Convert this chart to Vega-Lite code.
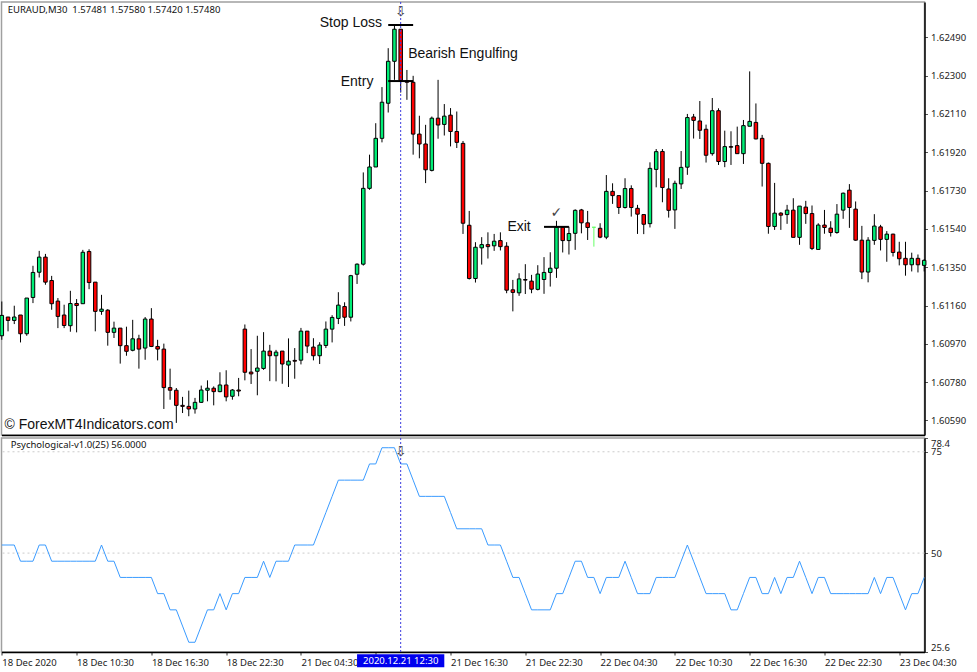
{
  "$schema": "https://vega.github.io/schema/vega-lite/v6.json",
  "background": "white",
  "padding": {"left": -1.5, "top": 0, "right": 0, "bottom": 0},
  "spacing": -1,
  "config": {
    "view": {"stroke": "#a0a0a0", "strokeWidth": 1.5},
    "axis": {"labelFont": "Noto Sans", "labelFontSize": 9.5, "labelColor": "#222222", "grid": false, "title": null}
  },
  "datasets": {
    "bars": [
      {"t":"18 Dec 2020","o":1.61010,"h":1.61180,"l":1.60990,"c":1.61111,"psy":52},
      {"t":"18 Dec 05:00","o":1.61103,"h":1.61103,"l":1.61032,"c":1.61086,"psy":52},
      {"t":"18 Dec 05:30","o":1.61086,"h":1.61159,"l":1.61068,"c":1.61103,"psy":52},
      {"t":"18 Dec 06:00","o":1.61113,"h":1.61113,"l":1.60977,"c":1.61020,"psy":48},
      {"t":"18 Dec 06:30","o":1.61020,"h":1.61197,"l":1.61010,"c":1.61197,"psy":48},
      {"t":"18 Dec 07:00","o":1.61200,"h":1.61357,"l":1.61172,"c":1.61324,"psy":48},
      {"t":"18 Dec 07:30","o":1.61325,"h":1.61431,"l":1.61299,"c":1.61400,"psy":52},
      {"t":"18 Dec 08:00","o":1.61400,"h":1.61416,"l":1.61263,"c":1.61276,"psy":52},
      {"t":"18 Dec 08:30","o":1.61284,"h":1.61307,"l":1.61139,"c":1.61169,"psy":48},
      {"t":"18 Dec 09:00","o":1.61182,"h":1.61197,"l":1.61048,"c":1.61106,"psy":48},
      {"t":"18 Dec 09:30","o":1.61113,"h":1.61164,"l":1.61048,"c":1.61061,"psy":48},
      {"t":"18 Dec 10:00","o":1.61060,"h":1.61233,"l":1.61030,"c":1.61170,"psy":48},
      {"t":"18 Dec 10:30","o":1.61170,"h":1.61192,"l":1.61027,"c":1.61160,"psy":48},
      {"t":"18 Dec 11:00","o":1.61169,"h":1.61436,"l":1.61169,"c":1.61424,"psy":48},
      {"t":"18 Dec 11:30","o":1.61428,"h":1.61439,"l":1.61241,"c":1.61274,"psy":48},
      {"t":"18 Dec 12:00","o":1.61276,"h":1.61276,"l":1.61032,"c":1.61131,"psy":48},
      {"t":"18 Dec 12:30","o":1.61131,"h":1.61213,"l":1.61114,"c":1.61142,"psy":52},
      {"t":"18 Dec 13:00","o":1.61137,"h":1.61142,"l":1.60961,"c":1.61027,"psy":48},
      {"t":"18 Dec 13:30","o":1.61027,"h":1.61080,"l":1.60999,"c":1.61048,"psy":48},
      {"t":"18 Dec 14:00","o":1.61048,"h":1.61048,"l":1.60872,"c":1.60961,"psy":44},
      {"t":"18 Dec 14:30","o":1.60961,"h":1.61055,"l":1.60911,"c":1.60933,"psy":44},
      {"t":"18 Dec 15:00","o":1.60938,"h":1.61089,"l":1.60933,"c":1.60995,"psy":44},
      {"t":"18 Dec 15:30","o":1.60995,"h":1.61015,"l":1.60847,"c":1.60944,"psy":44},
      {"t":"18 Dec 16:00","o":1.60949,"h":1.61103,"l":1.60891,"c":1.61093,"psy":44},
      {"t":"18 Dec 16:30","o":1.61093,"h":1.61147,"l":1.60954,"c":1.60957,"psy":44},
      {"t":"18 Dec 17:00","o":1.60957,"h":1.60990,"l":1.60888,"c":1.60944,"psy":40},
      {"t":"18 Dec 17:30","o":1.60944,"h":1.60971,"l":1.60647,"c":1.60753,"psy":40},
      {"t":"18 Dec 18:00","o":1.60753,"h":1.60847,"l":1.60693,"c":1.60740,"psy":36},
      {"t":"18 Dec 18:30","o":1.60740,"h":1.60751,"l":1.60578,"c":1.60665,"psy":36},
      {"t":"18 Dec 19:00","o":1.60665,"h":1.60707,"l":1.60627,"c":1.60660,"psy":32},
      {"t":"18 Dec 19:30","o":1.60660,"h":1.60738,"l":1.60611,"c":1.60647,"psy":28},
      {"t":"18 Dec 20:00","o":1.60647,"h":1.60702,"l":1.60624,"c":1.60680,"psy":28},
      {"t":"18 Dec 20:30","o":1.60680,"h":1.60763,"l":1.60677,"c":1.60741,"psy":32},
      {"t":"18 Dec 21:00","o":1.60740,"h":1.60789,"l":1.60685,"c":1.60750,"psy":36},
      {"t":"18 Dec 21:30","o":1.60750,"h":1.60759,"l":1.60665,"c":1.60733,"psy":36},
      {"t":"18 Dec 22:00","o":1.60733,"h":1.60829,"l":1.60730,"c":1.60766,"psy":40},
      {"t":"18 Dec 22:30","o":1.60766,"h":1.60839,"l":1.60685,"c":1.60707,"psy":36},
      {"t":"18 Dec 23:00","o":1.60710,"h":1.60746,"l":1.60693,"c":1.60741,"psy":40},
      {"t":"18 Dec 23:30","o":1.60741,"h":1.60801,"l":1.60710,"c":1.60736,"psy":40},
      {"t":"21 Dec 00:00","o":1.61043,"h":1.61066,"l":1.60789,"c":1.60829,"psy":44},
      {"t":"21 Dec 00:30","o":1.60830,"h":1.60944,"l":1.60771,"c":1.60821,"psy":44},
      {"t":"21 Dec 01:00","o":1.60834,"h":1.61010,"l":1.60715,"c":1.60850,"psy":44},
      {"t":"21 Dec 01:30","o":1.60848,"h":1.61028,"l":1.60841,"c":1.60934,"psy":48},
      {"t":"21 Dec 02:00","o":1.60934,"h":1.60965,"l":1.60785,"c":1.60911,"psy":44},
      {"t":"21 Dec 02:30","o":1.60911,"h":1.60940,"l":1.60784,"c":1.60929,"psy":48},
      {"t":"21 Dec 03:00","o":1.60934,"h":1.60934,"l":1.60772,"c":1.60870,"psy":48},
      {"t":"21 Dec 03:30","o":1.60865,"h":1.60997,"l":1.60756,"c":1.60884,"psy":48},
      {"t":"21 Dec 04:00","o":1.60888,"h":1.60949,"l":1.60797,"c":1.60884,"psy":52},
      {"t":"21 Dec 04:30","o":1.60889,"h":1.61049,"l":1.60868,"c":1.61033,"psy":52},
      {"t":"21 Dec 05:00","o":1.61033,"h":1.61033,"l":1.60924,"c":1.60959,"psy":52},
      {"t":"21 Dec 05:30","o":1.60954,"h":1.60998,"l":1.60888,"c":1.60911,"psy":52},
      {"t":"21 Dec 06:00","o":1.60911,"h":1.60978,"l":1.60870,"c":1.60964,"psy":56},
      {"t":"21 Dec 06:30","o":1.60962,"h":1.61081,"l":1.60949,"c":1.61043,"psy":60},
      {"t":"21 Dec 07:00","o":1.61043,"h":1.61112,"l":1.60977,"c":1.61101,"psy":64},
      {"t":"21 Dec 07:30","o":1.61096,"h":1.61226,"l":1.61068,"c":1.61162,"psy":68},
      {"t":"21 Dec 08:00","o":1.61155,"h":1.61176,"l":1.61059,"c":1.61102,"psy":68},
      {"t":"21 Dec 08:30","o":1.61102,"h":1.61312,"l":1.61081,"c":1.61308,"psy":68},
      {"t":"21 Dec 09:00","o":1.61315,"h":1.61369,"l":1.61267,"c":1.61365,"psy":68},
      {"t":"21 Dec 09:30","o":1.61365,"h":1.61820,"l":1.61358,"c":1.61741,"psy":68},
      {"t":"21 Dec 10:00","o":1.61741,"h":1.61908,"l":1.61734,"c":1.61847,"psy":72},
      {"t":"21 Dec 10:30","o":1.61847,"h":1.62064,"l":1.61847,"c":1.61989,"psy":72},
      {"t":"21 Dec 11:00","o":1.61989,"h":1.62243,"l":1.61969,"c":1.62168,"psy":76},
      {"t":"21 Dec 11:30","o":1.62163,"h":1.62436,"l":1.62117,"c":1.62371,"psy":76},
      {"t":"21 Dec 12:00","o":1.62371,"h":1.62546,"l":1.62279,"c":1.62530,"psy":76},
      {"t":"21 Dec 12:30","o":1.62530,"h":1.62530,"l":1.62216,"c":1.62276,"psy":72},
      {"t":"21 Dec 13:00","o":1.62274,"h":1.62328,"l":1.62180,"c":1.62267,"psy":72},
      {"t":"21 Dec 13:30","o":1.62267,"h":1.62299,"l":1.61908,"c":1.62010,"psy":68},
      {"t":"21 Dec 14:00","o":1.62010,"h":1.62101,"l":1.61890,"c":1.61961,"psy":64},
      {"t":"21 Dec 14:30","o":1.61961,"h":1.62056,"l":1.61767,"c":1.61833,"psy":64},
      {"t":"21 Dec 15:00","o":1.61830,"h":1.62097,"l":1.61825,"c":1.62089,"psy":64},
      {"t":"21 Dec 15:30","o":1.62089,"h":1.62279,"l":1.61987,"c":1.62055,"psy":64},
      {"t":"21 Dec 16:00","o":1.62058,"h":1.62159,"l":1.62003,"c":1.62099,"psy":64},
      {"t":"21 Dec 16:30","o":1.62104,"h":1.62139,"l":1.61949,"c":1.62023,"psy":60},
      {"t":"21 Dec 17:00","o":1.62023,"h":1.62122,"l":1.61941,"c":1.61969,"psy":56},
      {"t":"21 Dec 17:30","o":1.61964,"h":1.61976,"l":1.61515,"c":1.61568,"psy":56},
      {"t":"21 Dec 18:00","o":1.61558,"h":1.61629,"l":1.61289,"c":1.61294,"psy":56},
      {"t":"21 Dec 18:30","o":1.61294,"h":1.61474,"l":1.61274,"c":1.61449,"psy":56},
      {"t":"21 Dec 19:00","o":1.61446,"h":1.61499,"l":1.61363,"c":1.61462,"psy":56},
      {"t":"21 Dec 19:30","o":1.61462,"h":1.61523,"l":1.61393,"c":1.61452,"psy":52},
      {"t":"21 Dec 20:00","o":1.61456,"h":1.61515,"l":1.61431,"c":1.61479,"psy":52},
      {"t":"21 Dec 20:30","o":1.61482,"h":1.61523,"l":1.61433,"c":1.61452,"psy":52},
      {"t":"21 Dec 21:00","o":1.61454,"h":1.61474,"l":1.61221,"c":1.61236,"psy":48},
      {"t":"21 Dec 21:30","o":1.61238,"h":1.61287,"l":1.61131,"c":1.61225,"psy":44},
      {"t":"21 Dec 22:00","o":1.61223,"h":1.61320,"l":1.61208,"c":1.61292,"psy":44},
      {"t":"21 Dec 22:30","o":1.61289,"h":1.61365,"l":1.61217,"c":1.61286,"psy":40},
      {"t":"21 Dec 23:00","o":1.61281,"h":1.61312,"l":1.61221,"c":1.61241,"psy":36},
      {"t":"21 Dec 23:30","o":1.61240,"h":1.61360,"l":1.61235,"c":1.61316,"psy":36},
      {"t":"22 Dec 00:00","o":1.61289,"h":1.61400,"l":1.61218,"c":1.61324,"psy":36},
      {"t":"22 Dec 00:30","o":1.61324,"h":1.61424,"l":1.61254,"c":1.61345,"psy":36},
      {"t":"22 Dec 01:00","o":1.61345,"h":1.61580,"l":1.61297,"c":1.61548,"psy":40},
      {"t":"22 Dec 01:30","o":1.61548,"h":1.61548,"l":1.61423,"c":1.61482,"psy":40},
      {"t":"22 Dec 02:00","o":1.61482,"h":1.61551,"l":1.61413,"c":1.61517,"psy":44},
      {"t":"22 Dec 02:30","o":1.61518,"h":1.61637,"l":1.61436,"c":1.61632,"psy":48},
      {"t":"22 Dec 03:00","o":1.61634,"h":1.61639,"l":1.61518,"c":1.61570,"psy":48},
      {"t":"22 Dec 03:30","o":1.61570,"h":1.61629,"l":1.61485,"c":1.61547,"psy":44},
      {"t":"22 Dec 04:00","o":1.61548,"h":1.61548,"l":1.61452,"c":1.61548,"psy":44},
      {"t":"22 Dec 04:30","o":1.61543,"h":1.61568,"l":1.61494,"c":1.61499,"psy":40},
      {"t":"22 Dec 05:00","o":1.61499,"h":1.61807,"l":1.61489,"c":1.61726,"psy":44},
      {"t":"22 Dec 05:30","o":1.61726,"h":1.61766,"l":1.61664,"c":1.61705,"psy":44},
      {"t":"22 Dec 06:00","o":1.61705,"h":1.61705,"l":1.61614,"c":1.61646,"psy":44},
      {"t":"22 Dec 06:30","o":1.61646,"h":1.61791,"l":1.61641,"c":1.61740,"psy":48},
      {"t":"22 Dec 07:00","o":1.61740,"h":1.61756,"l":1.61601,"c":1.61646,"psy":44},
      {"t":"22 Dec 07:30","o":1.61642,"h":1.61659,"l":1.61515,"c":1.61613,"psy":40},
      {"t":"22 Dec 08:00","o":1.61611,"h":1.61611,"l":1.61514,"c":1.61563,"psy":40},
      {"t":"22 Dec 08:30","o":1.61566,"h":1.61870,"l":1.61547,"c":1.61840,"psy":40},
      {"t":"22 Dec 09:00","o":1.61835,"h":1.61936,"l":1.61746,"c":1.61923,"psy":44},
      {"t":"22 Dec 09:30","o":1.61924,"h":1.61936,"l":1.61672,"c":1.61745,"psy":44},
      {"t":"22 Dec 10:00","o":1.61738,"h":1.61791,"l":1.61596,"c":1.61632,"psy":44},
      {"t":"22 Dec 10:30","o":1.61634,"h":1.61779,"l":1.61540,"c":1.61766,"psy":44},
      {"t":"22 Dec 11:00","o":1.61763,"h":1.61926,"l":1.61738,"c":1.61845,"psy":48},
      {"t":"22 Dec 11:30","o":1.61846,"h":1.62110,"l":1.61808,"c":1.62092,"psy":52},
      {"t":"22 Dec 12:00","o":1.62095,"h":1.62110,"l":1.61988,"c":1.62078,"psy":48},
      {"t":"22 Dec 12:30","o":1.62075,"h":1.62174,"l":1.61986,"c":1.62029,"psy":44},
      {"t":"22 Dec 13:00","o":1.62034,"h":1.62057,"l":1.61869,"c":1.61905,"psy":40},
      {"t":"22 Dec 13:30","o":1.61913,"h":1.62189,"l":1.61903,"c":1.62126,"psy":40},
      {"t":"22 Dec 14:00","o":1.62126,"h":1.62138,"l":1.61857,"c":1.61874,"psy":40},
      {"t":"22 Dec 14:30","o":1.61874,"h":1.62027,"l":1.61846,"c":1.61948,"psy":40},
      {"t":"22 Dec 15:00","o":1.61948,"h":1.62024,"l":1.61857,"c":1.61945,"psy":36},
      {"t":"22 Dec 15:30","o":1.61953,"h":1.62047,"l":1.61913,"c":1.61913,"psy":36},
      {"t":"22 Dec 16:00","o":1.61913,"h":1.62080,"l":1.61862,"c":1.62052,"psy":40},
      {"t":"22 Dec 16:30","o":1.62049,"h":1.62321,"l":1.62049,"c":1.62073,"psy":44},
      {"t":"22 Dec 17:00","o":1.62068,"h":1.62162,"l":1.61984,"c":1.61986,"psy":44},
      {"t":"22 Dec 17:30","o":1.61989,"h":1.62006,"l":1.61750,"c":1.61865,"psy":40},
      {"t":"22 Dec 18:00","o":1.61865,"h":1.61869,"l":1.61516,"c":1.61552,"psy":40},
      {"t":"22 Dec 18:30","o":1.61552,"h":1.61768,"l":1.61535,"c":1.61618,"psy":44},
      {"t":"22 Dec 19:00","o":1.61618,"h":1.61623,"l":1.61535,"c":1.61608,"psy":40},
      {"t":"22 Dec 19:30","o":1.61611,"h":1.61659,"l":1.61565,"c":1.61633,"psy":44},
      {"t":"22 Dec 20:00","o":1.61633,"h":1.61692,"l":1.61498,"c":1.61498,"psy":44},
      {"t":"22 Dec 20:30","o":1.61498,"h":1.61653,"l":1.61461,"c":1.61653,"psy":48},
      {"t":"22 Dec 21:00","o":1.61648,"h":1.61679,"l":1.61565,"c":1.61616,"psy":44},
      {"t":"22 Dec 21:30","o":1.61616,"h":1.61656,"l":1.61435,"c":1.61443,"psy":40},
      {"t":"22 Dec 22:00","o":1.61438,"h":1.61568,"l":1.61438,"c":1.61559,"psy":44},
      {"t":"22 Dec 22:30","o":1.61559,"h":1.61634,"l":1.61516,"c":1.61547,"psy":44},
      {"t":"22 Dec 23:00","o":1.61544,"h":1.61578,"l":1.61502,"c":1.61522,"psy":40},
      {"t":"22 Dec 23:30","o":1.61522,"h":1.61663,"l":1.61516,"c":1.61613,"psy":40},
      {"t":"23 Dec 00:00","o":1.61633,"h":1.61720,"l":1.61590,"c":1.61717,"psy":40},
      {"t":"23 Dec 00:30","o":1.61732,"h":1.61762,"l":1.61545,"c":1.61646,"psy":40},
      {"t":"23 Dec 01:00","o":1.61638,"h":1.61676,"l":1.61481,"c":1.61484,"psy":40},
      {"t":"23 Dec 01:30","o":1.61484,"h":1.61555,"l":1.61291,"c":1.61326,"psy":40},
      {"t":"23 Dec 02:00","o":1.61326,"h":1.61499,"l":1.61275,"c":1.61484,"psy":40},
      {"t":"23 Dec 02:30","o":1.61483,"h":1.61613,"l":1.61461,"c":1.61554,"psy":44},
      {"t":"23 Dec 03:00","o":1.61550,"h":1.61560,"l":1.61433,"c":1.61488,"psy":40},
      {"t":"23 Dec 03:30","o":1.61488,"h":1.61529,"l":1.61377,"c":1.61514,"psy":44},
      {"t":"23 Dec 04:00","o":1.61514,"h":1.61516,"l":1.61403,"c":1.61423,"psy":44},
      {"t":"23 Dec 04:30","o":1.61425,"h":1.61476,"l":1.61359,"c":1.61392,"psy":40},
      {"t":"23 Dec 05:00","o":1.61394,"h":1.61476,"l":1.61308,"c":1.61362,"psy":36},
      {"t":"23 Dec 05:30","o":1.61362,"h":1.61422,"l":1.61329,"c":1.61394,"psy":40},
      {"t":"23 Dec 06:00","o":1.61394,"h":1.61413,"l":1.61324,"c":1.61362,"psy":40},
      {"t":"23 Dec 06:30","o":1.61359,"h":1.61390,"l":1.61329,"c":1.61384,"psy":44}
    ]
  },
  "vconcat": [
    {
      "width": 923,
      "height": 433,
      "layer": [
        {
          "data": {"name": "bars"},
          "mark": {"type": "rule", "strokeWidth": 1},
          "encoding": {
            "x": {
              "field": "t",
              "type": "nominal",
              "sort": null,
              "scale": {"type": "point", "padding": 0.05},
              "axis": {"labels": false, "ticks": false, "domainColor": "black", "domainWidth": 1.5}
            },
            "y": {
              "field": "l",
              "type": "quantitative",
              "scale": {"domain": [1.60518, 1.62665], "zero": false, "nice": false},
              "axis": {
                "orient": "right",
                "values": [1.6249, 1.623, 1.6211, 1.6192, 1.6173, 1.6154, 1.6135, 1.6116, 1.6097, 1.6078, 1.6059],
                "format": ".5f",
                "tickSize": 3,
                "labelPadding": 3,
                "domainColor": "black",
                "domainWidth": 1.5,
                "tickColor": "#555555"
              }
            },
            "y2": {"field": "h"},
            "stroke": {
              "condition": {"test": "datum.t == '22 Dec 04:00'", "value": "#66ff66"},
              "value": "black"
            }
          }
        },
        {
          "data": {"name": "bars"},
          "mark": {"type": "bar", "size": 3.5, "strokeWidth": 1},
          "encoding": {
            "x": {"field": "t", "type": "nominal", "sort": null},
            "y": {"field": "o", "type": "quantitative"},
            "y2": {"field": "c"},
            "fill": {
              "condition": {"test": "datum.c >= datum.o", "value": "#00ee76"},
              "value": "#ff0000"
            },
            "stroke": {
              "condition": {"test": "datum.t == '22 Dec 04:00'", "value": "#66ff66"},
              "value": "black"
            }
          }
        },
        {
          "data": {"values": [{"t": "21 Dec 12:30"}]},
          "mark": {"type": "rule", "color": "#3a3adf", "strokeDash": [2, 2], "strokeWidth": 1},
          "encoding": {"x": {"field": "t", "type": "nominal", "sort": null}}
        },
        {
          "data": {
            "values": [
              {"from": "21 Dec 11:30", "to": "21 Dec 13:30", "price": 1.62551},
              {"from": "21 Dec 11:30", "to": "21 Dec 13:30", "price": 1.62273},
              {"from": "22 Dec 00:00", "to": "22 Dec 02:00", "price": 1.6155}
            ]
          },
          "mark": {"type": "rule", "color": "black", "strokeWidth": 2},
          "encoding": {
            "x": {"field": "from", "type": "nominal", "sort": null},
            "x2": {"field": "to"},
            "y": {"field": "price", "type": "quantitative"}
          }
        },
        {
          "data": {
            "values": [
              {"t": "21 Dec 08:30", "price": 1.62566, "note": "Stop Loss"},
              {"t": "21 Dec 09:00", "price": 1.62273, "note": "Entry"},
              {"t": "21 Dec 17:30", "price": 1.62412, "note": "Bearish Engulfing"},
              {"t": "21 Dec 22:00", "price": 1.61555, "note": "Exit"},
              {"t": "18 Dec 11:30", "price": 1.60573, "note": "© ForexMT4Indicators.com"}
            ]
          },
          "mark": {"type": "text", "font": "Liberation Sans", "fontSize": 14, "color": "#111111", "dy": 1},
          "encoding": {
            "x": {"field": "t", "type": "nominal", "sort": null},
            "y": {"field": "price", "type": "quantitative"},
            "text": {"field": "note"}
          }
        },
        {
          "data": {
            "values": [
              {"t": "18 Dec 13:30", "price": 1.6263, "note": "EURAUD,M30\u00a0\u00a01.57481 1.57580 1.57420 1.57480"}
            ]
          },
          "mark": {"type": "text", "font": "Noto Sans", "fontSize": 9.5, "color": "#111111", "dy": 1},
          "encoding": {
            "x": {"field": "t", "type": "nominal", "sort": null},
            "y": {"field": "price", "type": "quantitative"},
            "text": {"field": "note"}
          }
        },
        {
          "data": {
            "values": [
              {"t": "21 Dec 12:30", "price": 1.62615, "note": "⇩"},
              {"t": "22 Dec 01:00", "price": 1.61619, "note": "✓"}
            ]
          },
          "mark": {"type": "text", "font": "DejaVu Sans", "fontSize": 14, "color": "#444444"},
          "encoding": {
            "x": {"field": "t", "type": "nominal", "sort": null},
            "y": {"field": "price", "type": "quantitative"},
            "text": {"field": "note"}
          }
        }
      ]
    },
    {
      "width": 923,
      "height": 214,
      "layer": [
        {
          "data": {"values": [{"level": 75}, {"level": 50}]},
          "mark": {"type": "rule", "color": "#cccccc", "strokeDash": [2, 3], "strokeWidth": 1},
          "encoding": {
            "y": {
              "field": "level",
              "type": "quantitative",
              "scale": {"domain": [25.6, 78.4], "zero": false, "nice": false},
              "axis": {
                "orient": "right",
                "values": [78.4, 75, 50, 25.6],
                "format": ".3~r",
                "tickSize": 3,
                "labelPadding": 3,
                "labelBound": false,
                "labelOverlap": false,
                "labelBaseline": {
                  "condition": [
                    {"test": "datum.value == 78.4", "value": "top"},
                    {"test": "datum.value == 25.6", "value": "bottom"}
                  ],
                  "value": "middle"
                },
                "domainColor": "black",
                "domainWidth": 1.5,
                "tickColor": "#555555"
              }
            }
          }
        },
        {
          "data": {"name": "bars"},
          "mark": {"type": "line", "color": "#3a9bff", "strokeWidth": 1},
          "encoding": {
            "x": {
              "field": "t",
              "type": "nominal",
              "sort": null,
              "scale": {"type": "point", "padding": 0.05},
              "axis": {
                "orient": "bottom",
                "values": ["18 Dec 2020", "18 Dec 10:30", "18 Dec 16:30", "18 Dec 22:30", "21 Dec 04:30", "21 Dec 10:30", "21 Dec 16:30", "21 Dec 22:30", "22 Dec 04:30", "22 Dec 10:30", "22 Dec 16:30", "22 Dec 22:30", "23 Dec 04:30"],
                "labelExpr": "datum.value == '21 Dec 10:30' ? '' : datum.label",
                "labelAlign": "left",
                "labelAngle": 0,
                "labelOverlap": false,
                "labelBound": false,
                "tickSize": 3,
                "labelPadding": 2,
                "domainColor": "black",
                "domainWidth": 1.5,
                "tickColor": "#333333"
              }
            },
            "y": {"field": "psy", "type": "quantitative"}
          }
        },
        {
          "data": {"values": [{"t": "21 Dec 12:30"}]},
          "mark": {"type": "rule", "color": "#3a3adf", "strokeDash": [2, 2], "strokeWidth": 1},
          "encoding": {"x": {"field": "t", "type": "nominal", "sort": null}}
        },
        {
          "data": {"values": [{"from": "21 Dec 09:00", "to": "21 Dec 16:00", "low": 21.85, "high": 25.06}]},
          "mark": {"type": "rect", "color": "#0000ee"},
          "encoding": {
            "x": {"field": "from", "type": "nominal", "sort": null},
            "x2": {"field": "to"},
            "y": {"field": "low", "type": "quantitative"},
            "y2": {"field": "high"}
          }
        },
        {
          "data": {"values": [{"t": "21 Dec 12:30", "v": 23.46, "note": "2020.12.21 12:30"}]},
          "mark": {"type": "text", "font": "Noto Sans", "fontSize": 9.5, "color": "white"},
          "encoding": {
            "x": {"field": "t", "type": "nominal", "sort": null},
            "y": {"field": "v", "type": "quantitative"},
            "text": {"field": "note"}
          }
        },
        {
          "data": {"values": [{"t": "18 Dec 10:30", "v": 76.67, "note": "Psychological-v1.0(25) 56.0000"}]},
          "mark": {"type": "text", "font": "Noto Sans", "fontSize": 9.5, "color": "#111111", "dx": 2},
          "encoding": {
            "x": {"field": "t", "type": "nominal", "sort": null},
            "y": {"field": "v", "type": "quantitative"},
            "text": {"field": "note"}
          }
        },
        {
          "data": {"values": [{"t": "21 Dec 12:30", "v": 75, "note": "⇩"}]},
          "mark": {"type": "text", "font": "DejaVu Sans", "fontSize": 14, "color": "#444444"},
          "encoding": {
            "x": {"field": "t", "type": "nominal", "sort": null},
            "y": {"field": "v", "type": "quantitative"},
            "text": {"field": "note"}
          }
        }
      ]
    }
  ]
}
